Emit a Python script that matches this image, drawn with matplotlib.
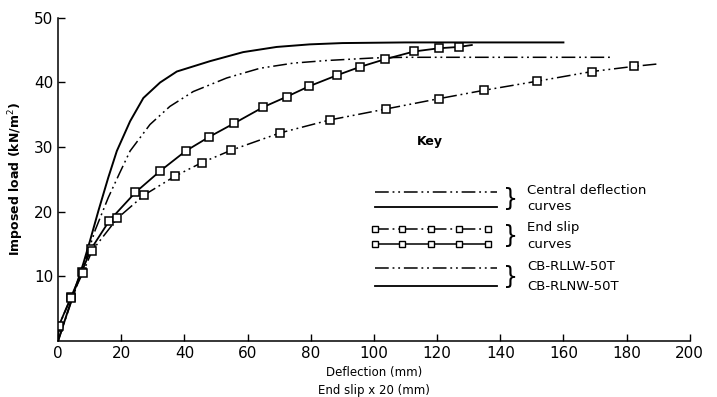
import matplotlib
matplotlib.use('Agg')
import matplotlib.pyplot as plt

# central deflection curves
cd_nw_x = [0, 4, 8, 10.1, 12.8, 15.9, 18.6, 22.8, 27, 32.3, 37.6, 48.1, 58.6, 69.2,
           79.7, 90, 110, 160]
cd_nw_y = [0, 6, 12, 15.5, 20.2, 25.3, 29.4, 34.0, 37.6, 40.0, 41.7, 43.3, 44.7, 45.5,
           45.9, 46.1, 46.2, 46.2]

cd_llw_x = [0, 4, 8, 11.7, 15.9, 19.5, 22.8, 29.1, 35.4, 42.8, 53.4, 63.9, 74.5, 85,
            100, 110, 175.6]
cd_llw_y = [0, 5.8, 11.5, 17.1, 22.2, 26, 29.4, 33.5, 36.3, 38.6, 40.7, 42.2, 43.0, 43.4,
            43.8, 43.9, 43.9]

# end slip curves (x 20)
es_nw_x = [0, 0.1, 4.1, 7.5, 10.4, 16.2, 24.5, 32.3, 40.4, 47.9, 55.8, 65, 72.4, 79.4,
           88.2, 95.5, 103.5, 112.7, 120.6, 126.9, 131]
es_nw_y = [0, 2.2, 6.8, 10.7, 14.2, 18.6, 23, 26.3, 29.4, 31.6, 33.7, 36.2, 37.8, 39.4,
           41.1, 42.4, 43.6, 44.8, 45.3, 45.5, 45.8]

es_llw_x = [0, 0.2, 4, 7.8, 10.8, 18.8, 27.3, 37, 45.5, 54.7, 70.3, 86, 103.8, 120.6,
            134.9, 151.7, 169.1, 182.4, 190.5]
es_llw_y = [0, 2.3, 6.6, 10.5, 14, 19.0, 22.6, 25.5, 27.6, 29.5, 32.2, 34.2, 35.9, 37.5,
            38.8, 40.2, 41.7, 42.5, 42.9]

xticks = [0, 20, 40, 60, 80, 100, 120, 140, 160, 180, 200]
yticks = [10, 20, 30, 40, 50]

dashdot = (0, (9, 2.5, 1.2, 2.5, 1.2, 2.5))

fig = plt.figure(figsize=(7.17, 3.97), dpi=100)
ax = fig.add_axes([0.081, 0.141, 0.881, 0.814])

ax.plot(cd_nw_x, cd_nw_y, color='black', lw=1.4)
ax.plot(cd_llw_x, cd_llw_y, color='black', lw=1.1, linestyle=dashdot)
ax.plot(es_nw_x, es_nw_y, color='black', lw=1.3, marker='s', markersize=5.5,
        markerfacecolor='white', markeredgewidth=1.1,
        markevery=list(range(1, len(es_nw_x) - 1)))
ax.plot(es_llw_x, es_llw_y, color='black', lw=1.1, linestyle=dashdot, marker='s',
        markersize=5.5, markerfacecolor='white', markeredgewidth=1.1,
        markevery=list(range(1, len(es_llw_x) - 1)))

ax.set_xlim(0, 200)
ax.set_ylim(0, 50)
ax.set_xticks(xticks)
ax.set_yticks(yticks)
ax.tick_params(direction='in', length=5, width=1, labelsize=11)
ax.spines['top'].set_visible(False)
ax.spines['right'].set_visible(False)
ax.spines['left'].set_linewidth(1.1)
ax.spines['bottom'].set_linewidth(1.1)

ax.set_ylabel('Imposed load (kN/m$^2$)', fontsize=9, fontweight='bold', labelpad=6)
ax.set_xlabel('Deflection (mm)\nEnd slip x 20 (mm)', fontsize=8.5, labelpad=4,
              linespacing=1.5)

# key
tr = ax.transAxes
ax.text(0.589, 0.616, 'Key', transform=tr, fontsize=9, fontweight='bold',
        ha='center', va='center')
lx = [0.502, 0.695]
rows = [0.461, 0.415, 0.347, 0.300, 0.226, 0.170]
ax.plot(lx, [rows[0]] * 2, transform=tr, color='black', lw=1.1, linestyle=dashdot)
ax.plot(lx, [rows[1]] * 2, transform=tr, color='black', lw=1.3)
ax.plot([0.502, 0.545, 0.59, 0.635, 0.68], [rows[2]] * 5, transform=tr, color='black',
        lw=1.1, linestyle=dashdot, marker='s', markersize=5, markerfacecolor='white')
ax.plot([0.502, 0.545, 0.59, 0.635, 0.68], [rows[3]] * 5, transform=tr, color='black',
        lw=1.1, marker='s', markersize=5, markerfacecolor='white')
ax.plot(lx, [rows[4]] * 2, transform=tr, color='black', lw=1.1, linestyle=dashdot)
ax.plot(lx, [rows[5]] * 2, transform=tr, color='black', lw=1.3)

labels = [('Central deflection', 'curves'), ('End slip', 'curves'),
          ('CB-RLLW-50T', 'CB-RLNW-50T')]
for i, (a, b) in enumerate(labels):
    y1, y2 = rows[2 * i], rows[2 * i + 1]
    ax.text(0.716, (y1 + y2) / 2, '}', transform=tr, fontsize=17, ha='center',
            va='center')
    ax.text(0.743, y1 + 0.005, a, transform=tr, fontsize=9.5, va='center')
    ax.text(0.743, y2, b, transform=tr, fontsize=9.5, va='center')

plt.savefig('out.png', dpi=100)
plt.close()
